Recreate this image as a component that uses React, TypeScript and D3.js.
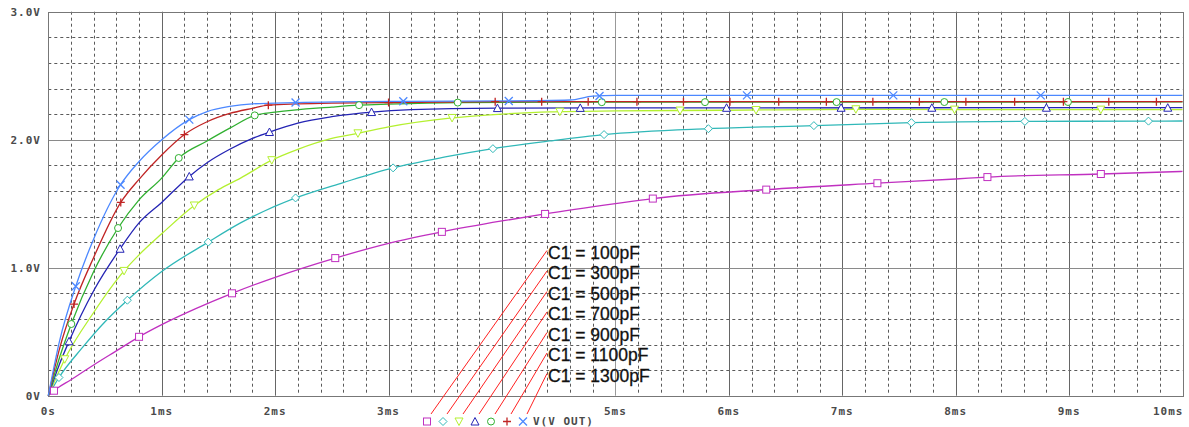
import React from 'react';
import * as d3 from "d3";

// time in ms, value in V
const capLabels = ["C1 = 100pF", "C1 = 300pF", "C1 = 500pF", "C1 = 700pF", "C1 = 900pF", "C1 = 1100pF", "C1 = 1300pF"];
const xTickLabels = ["0s", "1ms", "2ms", "3ms", "4ms", "5ms", "6ms", "7ms", "8ms", "9ms", "10ms"];
const yTickLabels = ["0V", "1.0V", "2.0V", "3.0V"];
const legendLabel = "V(V OUT)";

const c100 = [[0, 0], [0.05, 0.039], [0.2, 0.125], [0.4, 0.24], [0.6, 0.35], [0.8, 0.46], [1.0, 0.555], [1.3, 0.68],
  [1.62, 0.80], [2.0, 0.925], [2.53, 1.075], [3.0, 1.19], [3.47, 1.28], [4.0, 1.365], [4.38, 1.42], [5.0, 1.50],
  [5.33, 1.54], [6.33, 1.61], [7.31, 1.66], [8.0, 1.693], [8.28, 1.708], [9.28, 1.732], [10, 1.752]];
const c300 = [[0, 0], [0.094, 0.142], [0.3, 0.375], [0.5, 0.578], [0.697, 0.746], [1.0, 0.97], [1.41, 1.20],
  [1.695, 1.35], [2.18, 1.545], [2.6, 1.665], [3.04, 1.78], [3.5, 1.865], [3.92, 1.93], [4.42, 1.99], [4.9, 2.04],
  [5.82, 2.086], [6.75, 2.11], [7.61, 2.133], [8.61, 2.143], [9.7, 2.145], [10, 2.146]];
const c500 = [[0, 0], [0.145, 0.285], [0.4, 0.65], [0.668, 0.975], [0.8, 1.10], [1.0, 1.265], [1.287, 1.486],
  [1.5, 1.61], [1.695, 1.70], [1.97, 1.84], [2.2, 1.925], [2.5, 2.01], [2.73, 2.05], [3.0, 2.10], [3.56, 2.17],
  [4.0, 2.20], [4.42, 2.218], [5.0, 2.225], [6.0, 2.23], [7.12, 2.238], [8.0, 2.235], [10, 2.235]];
const c700 = [[0, 0], [0.1, 0.25], [0.183, 0.425], [0.4, 0.82], [0.633, 1.148], [0.8, 1.35], [1.0, 1.51],
  [1.243, 1.713], [1.4, 1.82], [1.6, 1.925], [1.8, 2.01], [1.95, 2.06], [2.2, 2.13], [2.5, 2.18], [2.85, 2.216],
  [3.2, 2.235], [3.96, 2.247], [5.0, 2.249], [10, 2.25]];
const c900 = [[0, 0], [0.1, 0.30], [0.203, 0.56], [0.4, 0.97], [0.615, 1.31], [0.8, 1.53], [1.0, 1.70],
  [1.15, 1.857], [1.4, 1.99], [1.6, 2.09], [1.82, 2.19], [2.0, 2.215], [2.5, 2.255], [2.74, 2.27], [3.0, 2.278],
  [3.61, 2.29], [4.5, 2.293], [10, 2.295]];
const c1100 = [[0, 0], [0.1, 0.37], [0.227, 0.716], [0.4, 1.08], [0.639, 1.51], [0.8, 1.69], [1.0, 1.88],
  [1.2, 2.04], [1.4, 2.14], [1.6, 2.205], [1.8, 2.245], [1.94, 2.27], [2.5, 2.285], [3.0, 2.29], [3.94, 2.297],
  [10, 2.297]];
const c1300 = [[0, 0], [0.1, 0.43], [0.242, 0.855], [0.4, 1.225], [0.637, 1.648], [0.8, 1.83], [1.0, 2.0],
  [1.243, 2.157], [1.4, 2.22], [1.6, 2.26], [1.8, 2.28], [2.18, 2.29], [3.13, 2.30], [4.06, 2.303], [4.6, 2.31],
  [4.8, 2.34], [5.0, 2.346], [10, 2.346]];

const c100Marks = [0.05, 0.80, 1.62, 2.53, 3.47, 4.38, 5.33, 6.33, 7.31, 8.28, 9.28];
const c300Marks = [0.094, 0.697, 1.41, 2.18, 3.04, 3.92, 4.90, 5.82, 6.75, 7.61, 8.61, 9.70];
const c500Marks = [0.145, 0.668, 1.287, 1.97, 2.73, 3.56, 4.51, 5.57, 6.24, 7.12, 7.99, 9.28];
const c700Marks = [0.183, 0.633, 1.243, 1.95, 2.85, 3.96, 4.69, 5.98, 6.99, 7.79, 8.80, 9.87];
const c900Marks = [0.203, 0.615, 1.15, 1.82, 2.74, 3.61, 4.88, 5.79, 6.95, 7.90, 8.99];
const c1100Marks = [0.227, 0.639, 1.20, 1.94, 3.0, 3.94, 4.35, 4.76, 5.19, 5.60, 6.01, 6.44, 6.86, 7.27, 7.68,
  8.09, 8.52, 8.95, 9.35, 9.77];
const c1300Marks = [0.242, 0.637, 1.243, 2.18, 3.13, 4.06, 4.86, 6.16, 7.45, 8.75];

const seriesData = [c100, c300, c500, c700, c900, c1100, c1300];
const seriesMarks = [c100Marks, c300Marks, c500Marks, c700Marks, c900Marks, c1100Marks, c1300Marks];
const seriesColors = ["#c030c0", "#30b8b8", "#b4f030", "#2424b4", "#30b030", "#c02424", "#4c88ff"];
const seriesShapes = ["square", "diamond", "triDown", "triUp", "circle", "plus", "cross"];

export default function App() {
    const width = 1189;
    const height = 427;
    const left = 48.3;
    const right = 1182.5;
    const top = 11.7;
    const bottom = 395.7;

    const svgRef = React.useRef(null);

    React.useEffect(() => {
        const svg = d3.select(svgRef.current);
        svg.selectAll("*").remove();

        const scaleX = d3.scaleLinear().domain([0, 10]).range([left, right]);
        const scaleY = d3.scaleLinear().domain([0, 3]).range([bottom, top]);
        const px = (v: number) => Math.round(v) + 0.5;

        svg.append("rect").attr("width", width).attr("height", height).attr("fill", "white");

        //Grid: dashed every 0.2, solid at the units.
        const grid = svg.append("g");
        for (let i = 1; i < 50; i++) {
            if (i % 5 === 0) continue;
            const x = px(scaleX(i / 5));
            grid.append("line").attr("x1", x).attr("x2", x).attr("y1", top).attr("y2", bottom)
                .attr("stroke", "#5a5a5a").attr("stroke-dasharray", "3,3");
        }
        for (let i = 1; i < 15; i++) {
            if (i % 5 === 0) continue;
            const y = px(scaleY(i / 5));
            grid.append("line").attr("x1", left).attr("x2", right).attr("y1", y).attr("y2", y)
                .attr("stroke", "#5a5a5a").attr("stroke-dasharray", "3,3");
        }
        for (let i = 1; i < 10; i++) {
            const x = px(scaleX(i));
            grid.append("line").attr("x1", x).attr("x2", x).attr("y1", top).attr("y2", bottom)
                .attr("stroke", i % 5 === 0 ? "#999" : "#666");
        }
        for (let i = 1; i < 3; i++) {
            const y = px(scaleY(i));
            grid.append("line").attr("x1", left).attr("x2", right).attr("y1", y).attr("y2", y)
                .attr("stroke", "#8a8a8a");
        }
        grid.append("rect")
            .attr("x", px(left)).attr("y", px(top))
            .attr("width", Math.round(right) - Math.round(left)).attr("height", Math.round(bottom) - Math.round(top))
            .attr("fill", "none").attr("stroke", "#777");

        //Tick labels.
        const tickFont = (sel) => sel
            .attr("font-family", "'DejaVu Sans Mono', monospace")
            .attr("font-size", 11)
            .attr("font-weight", "bold")
            .attr("letter-spacing", 1)
            .attr("fill", "#4a4a4a");

        xTickLabels.forEach((label, i) => {
            const last = i === xTickLabels.length - 1;
            svg.append("text")
                .attr("x", last ? scaleX(i) + 1 : scaleX(i))
                .attr("y", 415)
                .attr("text-anchor", last ? "end" : "middle")
                .text(label)
                .call(tickFont);
        });
        yTickLabels.forEach((label, i) => {
            svg.append("text")
                .attr("x", 41)
                .attr("y", scaleY(i) + 4)
                .attr("text-anchor", "end")
                .text(label)
                .call(tickFont);
        });

        //Marker shapes.
        const drawMarker = (g, shape, cx, cy, color) => {
            const s = 3.5;
            if (shape === "square") {
                g.append("rect").attr("x", cx - s).attr("y", cy - s).attr("width", 2 * s).attr("height", 2 * s)
                    .attr("fill", "white").attr("stroke", color);
                return;
            }
            if (shape === "circle") {
                g.append("circle").attr("cx", cx).attr("cy", cy).attr("r", s)
                    .attr("fill", "white").attr("stroke", color);
                return;
            }
            let d = "";
            if (shape === "diamond") d = `M${cx},${cy - 4}L${cx + 4},${cy}L${cx},${cy + 4}L${cx - 4},${cy}Z`;
            if (shape === "triDown") d = `M${cx - 4},${cy - 3.5}L${cx + 4},${cy - 3.5}L${cx},${cy + 4}Z`;
            if (shape === "triUp") d = `M${cx},${cy - 4}L${cx + 4},${cy + 3.5}L${cx - 4},${cy + 3.5}Z`;
            if (shape === "plus") d = `M${cx - 4},${cy}H${cx + 4}M${cx},${cy - 4}V${cy + 4}`;
            if (shape === "cross") d = `M${cx - 4},${cy - 4}L${cx + 4},${cy + 4}M${cx + 4},${cy - 4}L${cx - 4},${cy + 4}`;
            const fillable = shape !== "plus" && shape !== "cross";
            g.append("path").attr("d", d).attr("fill", fillable ? "white" : "none").attr("stroke", color)
                .attr("stroke-width", shape === "cross" || shape === "plus" ? 1.3 : 1);
        };

        const bisect = d3.bisector(d => d[0]).right;
        const valueAt = (points, t) => {
            const i = Math.min(Math.max(bisect(points, t), 1), points.length - 1);
            const a = points[i - 1];
            const b = points[i];
            return a[1] + (b[1] - a[1]) * (t - a[0]) / (b[0] - a[0]);
        };

        const line = d3.line()
            .x(d => scaleX(d[0]))
            .y(d => scaleY(d[1]))
            .curve(d3.curveMonotoneX);

        const plot = svg.append("g");
        seriesData.forEach((points, k) => {
            plot.append("path")
                .datum(points)
                .attr("d", line)
                .attr("fill", "none")
                .attr("stroke", seriesColors[k])
                .attr("stroke-width", 1.3);
        });
        seriesData.forEach((points, k) => {
            seriesMarks[k].forEach(t => {
                drawMarker(plot, seriesShapes[k], scaleX(t), scaleY(valueAt(points, t)), seriesColors[k]);
            });
        });

        //Legend below the axis, it covers the tick label under it.
        const legendX = d3.scaleLinear().domain([0, 6]).range([427, 523]);
        const legendY = 421.5;
        svg.append("rect")
            .attr("x", legendX(0) - 8).attr("y", 402)
            .attr("width", 180).attr("height", 25)
            .attr("fill", "white");
        seriesShapes.forEach((shape, k) => {
            drawMarker(svg, shape, legendX(k), legendY, seriesColors[k]);
        });
        svg.append("text")
            .attr("x", 533).attr("y", 424.5)
            .text(legendLabel)
            .call(tickFont);

        //Parameter labels with pointer lines.
        const labelX = 548;
        const labelY = d3.scaleLinear().domain([0, 6]).range([258.5, 381.5]);
        capLabels.forEach((label, k) => {
            svg.append("line")
                .attr("x1", labelX - 1).attr("y1", labelY(k) - 8)
                .attr("x2", legendX(k) + 4).attr("y2", 414)
                .attr("stroke", "#ff2020").attr("stroke-width", 1);
            svg.append("text")
                .attr("x", labelX).attr("y", labelY(k))
                .attr("font-family", "'Liberation Sans', Arial, sans-serif")
                .attr("font-size", 17.5)
                .attr("fill", "#111")
                .attr("stroke", "#111")
                .attr("stroke-width", 0.3)
                .text(label);
        });
    }, []);

    return (
        <div style={{position: "absolute", left: 0, top: 0}}>
            <svg ref={svgRef} width={width} height={height}></svg>
        </div>
    );
}
